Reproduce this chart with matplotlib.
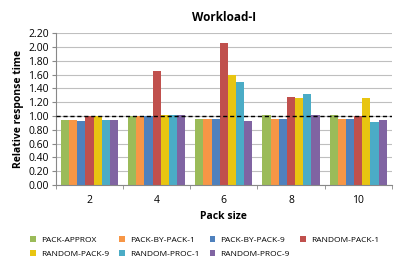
import matplotlib
matplotlib.use("Agg")
import matplotlib.pyplot as plt
import numpy as np

plt.rcParams['font.family'] = ['Open Sans', 'DejaVu Sans']

pack_sizes = ['2', '4', '6', '8', '10']
series_names = ['PACK-APPROX', 'PACK-BY-PACK-1', 'PACK-BY-PACK-9', 'RANDOM-PACK-1',
                'RANDOM-PACK-9', 'RANDOM-PROC-1', 'RANDOM-PROC-9']
pack_approx = [0.94, 1.00, 0.95, 1.01, 1.01]
pack_by_pack_1 = [0.94, 1.00, 0.95, 0.95, 0.95]
pack_by_pack_9 = [0.93, 1.00, 0.95, 0.95, 0.95]
random_pack_1 = [1.00, 1.65, 2.05, 1.27, 1.00]
random_pack_9 = [1.00, 1.01, 1.60, 1.26, 1.26]
random_proc_1 = [0.94, 1.01, 1.49, 1.32, 0.91]
random_proc_9 = [0.94, 1.01, 0.93, 1.01, 0.94]
colors = ['#9BBB59', '#F79646', '#4F81BD', '#C0504D', '#E8C511', '#4BACC6', '#8064A2']

all_series = [pack_approx, pack_by_pack_1, pack_by_pack_9, random_pack_1,
              random_pack_9, random_proc_1, random_proc_9]

fig = plt.figure(figsize=(3.99, 2.67), dpi=100)
ax = fig.add_axes([0.140, 0.307, 0.842, 0.569])

x = np.arange(len(pack_sizes))
n = len(all_series)
w = 0.85 / n
bars = []
for i, (vals, name, c) in enumerate(zip(all_series, series_names, colors)):
    b = ax.bar(x - 0.425 + w * (i + 0.5), vals, width=w, color=c, label=name, zorder=2)
    bars.append(b)

ax.axhline(1.0, color='black', linestyle=(0, (3, 2)), linewidth=1.0, zorder=3)

ax.set_xlim(-0.5, len(pack_sizes) - 0.5)
ax.set_ylim(0, 2.2)
ax.set_yticks(np.arange(0, 2.21, 0.2))
ax.set_yticklabels(['%.2f' % v for v in np.arange(0, 2.21, 0.2)], fontsize=7.5)
ax.yaxis.grid(True, color='#BFBFBF', linewidth=0.8, zorder=0)
ax.set_axisbelow(True)

ax.set_xticks(x)
ax.set_xticklabels(pack_sizes, fontsize=7.5)
ax.tick_params(axis='x', length=0, pad=7)
ax.set_xticks(np.arange(-0.5, len(pack_sizes)), minor=True)
ax.tick_params(axis='x', which='minor', length=3, color='#888888')
ax.tick_params(axis='y', length=3, color='#888888', pad=2)

for s in ['top', 'right']:
    ax.spines[s].set_visible(False)
for s in ['left', 'bottom']:
    ax.spines[s].set_color('#888888')

ax.set_title('Workload-I', fontsize=8.5, fontweight='bold', pad=9)
ax.set_ylabel('Relative response time', fontsize=7.5, fontweight='bold', labelpad=3)
ax.set_xlabel('Pack size', fontsize=7.5, fontweight='bold', labelpad=4)

# row-wise legend order
order = [0, 4, 1, 5, 2, 6, 3]
ax.legend([bars[i] for i in order], [series_names[i] for i in order],
          loc='upper left', bbox_to_anchor=(-0.088, -0.31), ncol=4, frameon=False,
          fontsize=6, handlelength=0.7, handleheight=0.7, columnspacing=1.2,
          handletextpad=0.6, labelspacing=0.75, borderpad=0)

fig.savefig('out.png', dpi=100)
